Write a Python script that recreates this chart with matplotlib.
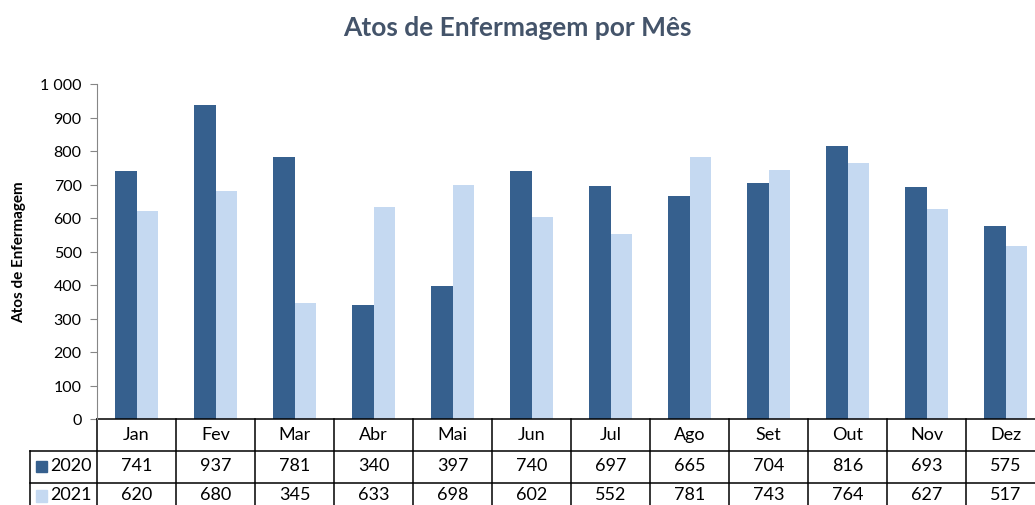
import matplotlib.pyplot as plt
import matplotlib.patches as mpatches
import numpy as np

meses = ['Jan', 'Fev', 'Mar', 'Abr', 'Mai', 'Jun', 'Jul', 'Ago', 'Set', 'Out', 'Nov', 'Dez']
v2020 = [741, 937, 781, 340, 397, 740, 697, 665, 704, 816, 693, 575]
v2021 = [620, 680, 345, 633, 698, 602, 552, 781, 743, 764, 627, 517]
series = ['2020', '2021']
cores = ['#36608E', '#C5D9F1']
yticks = [0, 100, 200, 300, 400, 500, 600, 700, 800, 900, 1000]

plt.rcParams['font.family'] = ['Lato', 'DejaVu Sans']

W, H = 1035, 506
fig = plt.figure(figsize=(W / 100, H / 100), dpi=100)
# eixo: x de 97 a 1045 px, y de 85 a 420 px
ax = fig.add_axes([97 / W, 1 - 420 / H, 948 / W, 335 / H])

x = np.arange(len(meses))
bw = 0.273
ax.bar(x - bw / 2, v2020, bw, color=cores[0])
ax.bar(x + bw / 2, v2021, bw, color=cores[1])

ax.set_xlim(-0.5, len(meses) - 0.5)
ax.set_ylim(0, 1000)
ax.set_yticks(yticks)
ax.set_yticklabels([f'{v:,}'.replace(',', ' ') for v in yticks], fontsize=11.5)
ax.set_xticks([])
for s in ['top', 'right', 'bottom']:
    ax.spines[s].set_visible(False)
ax.spines['left'].set_color('#868686')
ax.tick_params(axis='y', colors='#868686', length=5, labelcolor='black', pad=6)
ax.set_ylabel('Atos de Enfermagem', fontsize=11, fontweight='bold', labelpad=10)

fig.text(0.5, 1 - 28 / H, 'Atos de Enfermagem por Mês', ha='center', va='center',
         fontsize=19, fontweight='bold', color='#44546A')

# tabela de dados (coordenadas: x em dados, y em fração do eixo)
rh = 32 / 335
lab_left = -0.5 - 67 / 79
tr = ax.get_xaxis_transform()
kw = dict(transform=tr, clip_on=False, color='black', lw=1.1)
# linhas horizontais
ax.plot([-0.5, 11.5], [0, 0], **kw)
for i in (1, 2, 3):
    ax.plot([lab_left, 11.5], [-i * rh, -i * rh], **kw)
# linhas verticais
for k in range(len(meses) + 1):
    ax.plot([k - 0.5, k - 0.5], [0, -3 * rh], **kw)
ax.plot([lab_left, lab_left], [-rh, -3 * rh], **kw)

for k, m in enumerate(meses):
    ax.text(k, -0.5 * rh + 0.004, m, transform=tr, ha='center', va='center', fontsize=13)
for r, (nome, vals, c) in enumerate(zip(series, [v2020, v2021], cores)):
    yc = -(r + 1.5) * rh + 0.008 * r
    for k, v in enumerate(vals):
        ax.text(k, yc + 0.006, str(v), transform=tr, ha='center', va='center', fontsize=13)
    ax.add_patch(mpatches.Rectangle((lab_left + 0.08, yc - 0.016), 0.13, 0.034,
                                    transform=tr, clip_on=False, color=c))
    ax.text(lab_left + 0.25, yc + 0.006, nome, transform=tr, ha='left', va='center', fontsize=13)

fig.savefig('out.png', dpi=100)
